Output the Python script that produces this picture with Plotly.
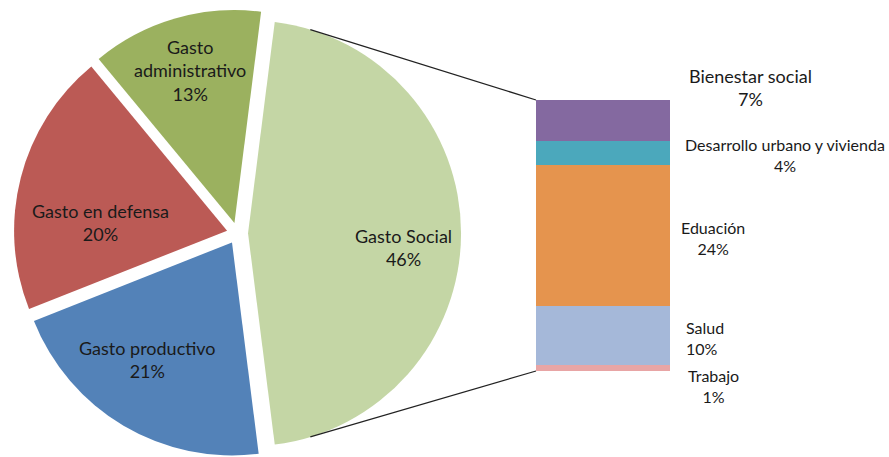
import math
import plotly.graph_objects as go

# Main pie data
pie_labels = ["Gasto Social", "Gasto productivo", "Gasto en defensa", "Gasto administrativo"]
pie_values = [46, 21, 20, 13]
pie_text = ["Gasto Social", "Gasto productivo", "Gasto en defensa", "Gasto<br>administrativo"]
pie_colors = ["#C4D6A5", "#5382B8", "#BB5A55", "#9BB15F"]
pie_pull = [0.05, 0.05, 0.05, 0.05]

# Breakdown of Gasto Social (bottom to top of the stacked bar)
bar_labels = ["Trabajo", "Salud", "Eduación", "Desarrollo urbano y vivienda", "Bienestar social"]
bar_values = [1, 10, 24, 4, 7]
bar_colors = ["#E8A5A5", "#A5B8D9", "#E5944E", "#4BA8BC", "#8469A0"]

W, H = 889, 457
FONT = "Lato, 'Open Sans', Arial, sans-serif"
ROTATION = 7.2

# pie geometry in pixels
cx, cy, rad = 237.4, 233.3, 213
half = rad * (1 + max(pie_pull))
px0, px1, py0, py1 = cx - half, cx + half, cy - half, cy + half

fig = go.Figure()

fig.add_trace(go.Pie(
    labels=pie_labels, values=pie_values,
    textinfo="none",
    marker=dict(colors=pie_colors, line=dict(width=0)),
    sort=False, direction="clockwise", rotation=ROTATION,
    pull=pie_pull, hole=0,
    domain=dict(x=[px0 / W, px1 / W], y=[max(0, 1 - py1 / H), 1 - py0 / H]),
    showlegend=False, hoverinfo="label+percent",
))

# Pie labels placed along each slice's bisector (excel-like placement)
label_place = {  # radius fraction, angle tweak in degrees
    "Gasto Social": (0.735, 4.9),
    "Gasto productivo": (0.68, 4.9),
    "Gasto en defensa": (0.597, -9.7),
    "Gasto administrativo": (0.744, 0),
}
tot_pie = sum(pie_values)
start = ROTATION
for lab, txt, val, pull in zip(pie_labels, pie_text, pie_values, pie_pull):
    span = 360 * val / tot_pie
    mid = start + span / 2
    start += span
    frac, dang = label_place[lab]
    d = rad * (pull + frac)
    a = math.radians(mid + dang)
    lx = cx + d * math.sin(a)
    ly = cy - d * math.cos(a)
    fig.add_annotation(
        x=lx / W, y=1 - ly / H, xref="paper", yref="paper", showarrow=False,
        text=f"{txt}<br>{round(100 * val / tot_pie)}%", align="center",
        xanchor="center", yanchor="middle",
        font=dict(family=FONT, size=18, color="#1a1a1a"),
    )

for lab, val, col in zip(bar_labels, bar_values, bar_colors):
    fig.add_trace(go.Bar(
        x=[0], y=[val], width=1, name=lab, marker=dict(color=col, line=dict(width=0)),
        xaxis="x", yaxis="y", showlegend=False,
    ))

# Bar labels beside the segments
total = sum(bar_values)
label_style = {
    "Bienestar social": dict(xshift=80, yshift=33, size=18, align="center", xanchor="center"),
    "Desarrollo urbano y vivienda": dict(xshift=115, yshift=-2, size=16, align="center", xanchor="center"),
    "Eduación": dict(xshift=43, yshift=-2, size=16, align="center", xanchor="center"),
    "Salud": dict(xshift=14, yshift=-2, size=16, align="left", xanchor="left"),
    "Trabajo": dict(xshift=43, yshift=-18, size=16, align="center", xanchor="center"),
}
cum = 0
for lab, val in zip(bar_labels, bar_values):
    mid = cum + val / 2
    cum += val
    st = label_style[lab]
    fig.add_annotation(
        x=0.5, y=mid, xref="x", yref="y", showarrow=False,
        text=f"{lab}<br>{round(100 * val / 100)}%",
        xanchor=st["xanchor"], xshift=st["xshift"], yshift=st["yshift"],
        align=st["align"], font=dict(family=FONT, size=st["size"], color="#1a1a1a"),
    )

# Connector lines from the Gasto Social arc to the bar corners
tip_x = cx + pie_pull[0] * rad
tip_y = cy
ang = math.radians(17)
bar_left, bar_top, bar_bot = 536, 100, 371
for sgn, by in [(-1, bar_top), (1, bar_bot)]:
    sx = tip_x + rad * math.sin(ang)
    sy = tip_y + sgn * rad * math.cos(ang)
    fig.add_shape(type="line", xref="paper", yref="paper",
                  x0=sx / W, y0=1 - sy / H, x1=bar_left / W, y1=1 - by / H,
                  line=dict(color="#222222", width=1.3))

fig.update_layout(
    width=W, height=H, margin=dict(l=0, r=0, t=0, b=0),
    paper_bgcolor="white", plot_bgcolor="white", barmode="stack",
    xaxis=dict(domain=[bar_left / W, 670 / W], range=[-0.5, 0.5], visible=False, fixedrange=True),
    yaxis=dict(domain=[1 - bar_bot / H, 1 - bar_top / H], range=[0, total], visible=False, fixedrange=True),
)

fig.write_html("out.html", config={"displayModeBar": False},
               post_script="document.body.style.margin='0';")
